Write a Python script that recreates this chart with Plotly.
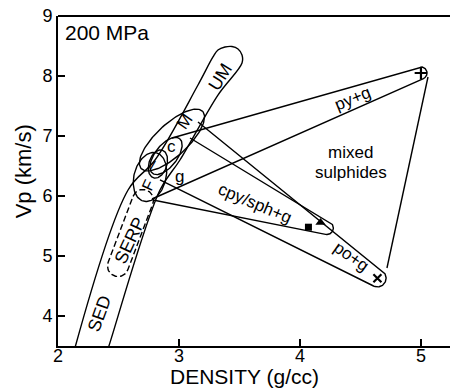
import numpy as np
import plotly.graph_objects as go

# ---------------- axes ----------------
X_RANGE = [2.0, 5.24]
Y_RANGE = [3.5, 9.0]
x_ticks = [2, 3, 4, 5]
y_ticks = [4, 5, 6, 7, 8, 9]

# ---------------- sulphide end members (density, Vp) ----------------
py_pt = [5.00, 8.05]    # +
po_pt = [4.64, 4.63]    # x
cpy_pt = [4.07, 5.48]   # square
sph_pt = [4.17, 5.56]   # triangle

# ---------------- rock band SED ... UM (outline points) ----------------
band_left_x = [2.117, 2.579, 2.802, 3.157, 3.281]
band_left_y = [3.30, 6.10, 6.60, 7.85, 8.317]
band_cap_x = [3.322, 3.380, 3.438, 3.488, 3.521]
band_cap_y = [8.433, 8.483, 8.492, 8.45, 8.35]
band_right_x = [3.521, 3.322, 3.008, 2.843, 2.4215, 2.388]
band_right_y = [8.217, 7.683, 6.60, 6.10, 3.505, 3.30]

# SERP field (dashed capsule): two end centres and radius (density units)
serp_ends_x = [2.496, 2.702]
serp_ends_y = [4.833, 5.933]
serp_r = 0.087

# ellipse fields: name, centre density, centre Vp, semi-axes (density units), tilt (deg)
ell_names = ["F", "I", "c", "M"]
ell_cx = [2.760, 2.826, 2.893, 2.942]
ell_cy = [6.317, 6.533, 6.667, 6.933]
ell_a = [0.207, 0.120, 0.182, 0.347]
ell_b = [0.132, 0.074, 0.091, 0.132]
ell_ang = [75, 72, 52, 43]

# mixing fields (wedges from host-rock region to sulphide end member)
pyg_base_up = [2.942, 6.967]
pyg_base_low = [2.777, 5.95]
pyg_r = 0.05
pog_base_up = [3.157, 7.233]
pog_base_low = [2.843, 6.267]
pog_r = 0.072
cpyg_base_up = [3.091, 6.967]
cpyg_base_low = [2.785, 5.933]
cpyg_tip = [4.222, 5.467]
cpyg_r = 0.054
mixed_edge_x = [5.058, 4.719]
mixed_edge_y = [7.983, 4.80]

# labels: text, density, Vp, angle, size
lab_text = ["SED", "SERP", "UM", "M", "F", "I", "c", "g", "py+g", "mixed", "sulphides",
            "cpy/sph+g", "po+g"]
lab_x = [2.347, 2.595, 3.339, 3.05, 2.744, 2.785, 2.94, 3.008, 4.438, 4.42, 4.42, 3.628, 4.421]
lab_y = [4.045, 5.267, 7.988, 7.238, 6.183, 6.517, 6.822, 6.322, 7.628, 6.733, 6.40, 5.878, 4.988]
lab_ang = [-70, -65, -58, -55, -65, 30, 0, 0, -22, 0, 0, 23, 35]
lab_size = [18, 18, 18, 17, 16, 14, 17, 17, 17, 17, 17, 17, 17]

# ---------------- geometry helpers (work in screen-isotropic units) ----------------
PW, PH = 392, 330
SX = PW / (X_RANGE[1] - X_RANGE[0])
SY = PH / (Y_RANGE[1] - Y_RANGE[0])


def to_vis(x, y):
    return (np.asarray(x, float) - X_RANGE[0]) * SX, (np.asarray(y, float) - Y_RANGE[0]) * SY


def to_data(u, v):
    return np.asarray(u) / SX + X_RANGE[0], np.asarray(v) / SY + Y_RANGE[0]


def ellipse(cx, cy, a, b, ang):
    u0, v0 = to_vis(cx, cy)
    A, B, th = a * SX, b * SX, np.radians(ang)
    t = np.linspace(0, 2 * np.pi, 121)
    u = u0 + A * np.cos(t) * np.cos(th) - B * np.sin(t) * np.sin(th)
    v = v0 + A * np.cos(t) * np.sin(th) + B * np.sin(t) * np.cos(th)
    return to_data(u, v)


def capsule(p1, p2, r):
    u1, v1 = to_vis(*p1)
    u2, v2 = to_vis(*p2)
    R = r * SX
    phi = np.arctan2(v2 - v1, u2 - u1)
    t2 = np.linspace(phi + np.pi / 2, phi - np.pi / 2, 40)
    t1 = np.linspace(phi - np.pi / 2, phi - 3 * np.pi / 2, 40)
    u = np.concatenate([u2 + R * np.cos(t2), u1 + R * np.cos(t1), [u2 + R * np.cos(t2[0])]])
    v = np.concatenate([v2 + R * np.sin(t2), v1 + R * np.sin(t1), [v2 + R * np.sin(t2[0])]])
    return to_data(u, v)


def wedge(p_up, p_low, c, r):
    uc, vc = to_vis(*c)
    R = r * SX

    def tang(p, sign):
        u, v = to_vis(*p)
        d = np.hypot(u - uc, v - vc)
        phi = np.arctan2(v - vc, u - uc)
        return phi + sign * np.arccos(R / d), u, v

    th1, u1, v1 = tang(p_up, -1)
    th2, u2, v2 = tang(p_low, +1)
    th2 = th1 - ((th1 - th2) % (2 * np.pi))
    t = np.linspace(th1, th2, 50)
    u = np.concatenate([[u1], uc + R * np.cos(t), [u2]])
    v = np.concatenate([[v1], vc + R * np.sin(t), [v2]])
    return to_data(u, v)


fig = go.Figure()
LW = 1.4


def add_line(x, y, dash="solid", shape="linear"):
    fig.add_trace(go.Scatter(x=list(x), y=list(y), mode="lines",
                             line=dict(color="black", width=LW, dash=dash, shape=shape),
                             hoverinfo="skip", showlegend=False))


# band
add_line(band_left_x + band_cap_x + band_right_x,
         band_left_y + band_cap_y + band_right_y, shape="spline")
# SERP
sx_, sy_ = capsule([serp_ends_x[0], serp_ends_y[0]], [serp_ends_x[1], serp_ends_y[1]], serp_r)
add_line(sx_, sy_, dash="6px,3px")
# ellipses
for i in range(len(ell_names)):
    ex, ey = ellipse(ell_cx[i], ell_cy[i], ell_a[i], ell_b[i], ell_ang[i])
    add_line(ex, ey)
# wedges
for pu, pl, c, r in [(pyg_base_up, pyg_base_low, py_pt, pyg_r),
                     (pog_base_up, pog_base_low, po_pt, pog_r),
                     (cpyg_base_up, cpyg_base_low, cpyg_tip, cpyg_r)]:
    wx, wy = wedge(pu, pl, c, r)
    add_line(wx, wy)
add_line(mixed_edge_x, mixed_edge_y)

# sulphide points
fig.add_trace(go.Scatter(x=[py_pt[0]], y=[py_pt[1]], mode="markers",
                         marker=dict(symbol="cross-thin", size=9, line=dict(color="black", width=2.2)),
                         hoverinfo="skip", showlegend=False))
fig.add_trace(go.Scatter(x=[po_pt[0]], y=[po_pt[1]], mode="markers",
                         marker=dict(symbol="x-thin", size=8, line=dict(color="black", width=2.2)),
                         hoverinfo="skip", showlegend=False))
fig.add_trace(go.Scatter(x=[cpy_pt[0]], y=[cpy_pt[1]], mode="markers",
                         marker=dict(symbol="square", size=7, color="black"),
                         hoverinfo="skip", showlegend=False))
fig.add_trace(go.Scatter(x=[sph_pt[0]], y=[sph_pt[1]], mode="markers",
                         marker=dict(symbol="triangle-up", size=9, color="black"),
                         hoverinfo="skip", showlegend=False))

FONT = "Liberation Sans, Arial, Helvetica, sans-serif"
for t, x, y, a, s in zip(lab_text, lab_x, lab_y, lab_ang, lab_size):
    fig.add_annotation(x=x, y=y, text=t, textangle=a, showarrow=False,
                       xanchor="center", yanchor="middle",
                       font=dict(family=FONT, size=s, color="black"))

fig.add_annotation(x=2.045, y=8.73, text="200 MPa", xanchor="left", yanchor="middle",
                   showarrow=False, font=dict(family=FONT, size=21, color="black"))
fig.add_annotation(xref="paper", yref="paper", x=0.4745, y=-0.0925, text="DENSITY (g/cc)",
                   showarrow=False, xanchor="center", yanchor="middle",
                   font=dict(family=FONT, size=21, color="black"))
fig.add_annotation(xref="paper", yref="paper", x=-0.087, y=0.529, text="Vp (km/s)",
                   textangle=-90, showarrow=False, xanchor="center", yanchor="middle",
                   font=dict(family=FONT, size=22, color="black"))

fig.add_shape(type="line", xref="paper", yref="paper", x0=0, x1=1, y0=1, y1=1,
              line=dict(color="black", width=2))

axis_common = dict(showline=True, linecolor="black", linewidth=2, ticks="inside", ticklen=7,
                   tickwidth=1.5, tickcolor="black", showgrid=False, zeroline=False,
                   tickfont=dict(family=FONT, size=18, color="black"))
fig.update_xaxes(range=X_RANGE, tickvals=x_ticks, ticklabelstandoff=-8, **axis_common)
fig.update_yaxes(range=Y_RANGE, tickvals=y_ticks, **axis_common)

fig.update_layout(width=450, height=389, margin=dict(l=58, r=0, t=16, b=43),
                  plot_bgcolor="white", paper_bgcolor="white", showlegend=False)

fig.write_html("out.html")
